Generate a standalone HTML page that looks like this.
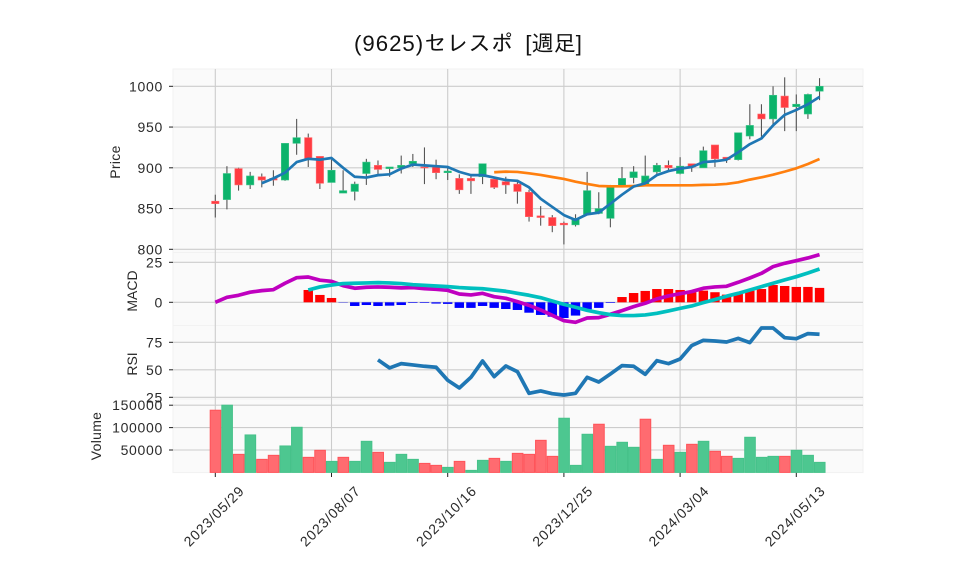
<!DOCTYPE html>
<html>
<head>
<meta charset="utf-8">
<title>(9625)セレスポ [週足]</title>
<style>
html,body{margin:0;padding:0;background:#fff;}
svg{display:block;}
text{font-family:"Liberation Sans","IPAGothic","Noto Sans CJK JP",sans-serif;fill:#2a2a2a;}
</style>
</head>
<body>
<svg id="chart" xmlns="http://www.w3.org/2000/svg" width="958" height="575" viewBox="0 0 958 575"></svg>
<script>
const dateLabels = ["2023/05/29","2023/08/07","2023/10/16","2023/12/25","2024/03/04","2024/05/13"];
const dateTickIndex = [0,10,20,30,40,50];
const priceTicks = [800,850,900,950,1000];
const macdTicks = [0,25];
const rsiTicks = [25,50,75];
const volumeTicks = [50000,100000,150000];
const opens = [859,861,899,879,889,887,885,930,937,914,882,869,871,893,903,899,900,905,901,901,894,887,887,889,886,883,880,870,841,839,832,830,843,844,838,878,888,879,895,903,893,905,900,928,913,910,939,966,960,988,975,966,994];
const closes = [856,893,879,890,885,885,930,937,911,881,897,872,880,907,898,901,903,908,900,894,896,873,884,905,876,879,871,840,839,829,830,838,872,850,877,887,895,890,903,900,902,901,921,911,910,943,952,960,989,974,978,990,1000];
const highs = [867,902,900,895,893,897,930,960,942,914,910,897,883,911,909,901,915,917,925,910,901,892,891,905,889,889,884,873,853,842,834,843,895,870,879,901,902,915,906,909,913,905,926,928,913,943,978,978,1000,1011,990,991,1010];
const lows = [839,849,872,874,876,878,884,916,901,874,882,869,860,879,891,889,893,901,880,886,885,868,868,880,874,868,856,834,829,821,806,828,842,843,827,877,881,878,891,896,892,895,900,901,906,909,935,938,953,945,945,960,983];
const ma5Start = 4;
const ma5 = [881,887,894,907,911,910,912,900,889,888,891,892,899,904,903,902,901,895,891,891,888,885,884,876,862,852,842,836,843,845,856,867,877,881,891,896,899,901,907,908,910,919,929,936,952,965,971,978,987];
const ma25Start = 24;
const ma25 = [894.5,895.3,894.9,893.2,891.2,888.7,886.3,883,880.2,877.7,877.3,877.3,877.7,878.5,878.5,878.5,878.5,878.5,879,879.3,880.2,882.2,885.5,888.3,891.6,895.3,899.4,904.7,910.8];
const macdLine = [0,3.1,4.4,6.3,7.3,7.9,11.9,15.4,15.8,13.8,13.1,10.4,8.8,9.4,9.6,9.4,9,9.2,8.5,8.1,7.5,5.2,4.6,5.6,3.5,2.5,0.4,-1.9,-4.8,-8.1,-11.5,-12.5,-9.8,-9.6,-7.5,-5.2,-2.7,-0.6,2.1,4,5.4,6.7,8.8,9.6,10,12.5,15.2,18.1,22.3,24.4,26,27.7,29.8];
const signalStart = 8;
const signalLine = [7.7,9.6,10.8,11.7,11.9,12.1,12.3,12.1,11.7,11,10.6,10.2,9.8,9.2,8.8,8.5,7.7,6.9,5.6,4.4,2.9,0.8,-1.3,-3.1,-5,-6.5,-7.7,-8.3,-8.3,-7.9,-6.9,-5.4,-3.8,-2.3,-0.2,1.7,3.8,5.6,7.7,9.8,11.9,14,16,18.3,20.8];
const histogram = [7.7,4.6,2.7,-0.2,-2.3,-1.7,-2.3,-2.1,-1.7,-0.4,-0.4,-0.8,-1,-3.5,-3.5,-2.3,-3.5,-4.2,-4.8,-6.5,-7.9,-9,-9.8,-8.3,-4.4,-3.5,-0.4,3.3,5.8,7.1,8.3,8.3,7.7,6.3,7.3,6.3,4.8,5.6,7.3,8.3,10.8,10.2,9.6,9.6,9];
const rsiStart = 14;
const rsiValues = [59,51.7,55.6,54.4,53.2,52.3,40.5,33.5,43.2,58,43.8,53.5,48.3,28.6,30.8,28.3,27.1,28.6,43.2,38.9,46.2,53.8,53.2,45.9,58.3,55.6,59.8,72,76.8,76.2,75.3,78.6,74.7,88,88,79.2,78.3,82.9,82.3];
const volumes = [138800,150000,40300,83600,29100,38100,59000,100700,33600,49300,24600,33600,24600,69400,44800,22400,40300,29100,20100,15700,11200,24600,4500,26900,31300,24600,42500,40300,71600,35800,120900,15700,85100,107500,58200,67200,56000,118700,29100,60500,44800,62700,69400,47000,35800,31300,78400,33600,35800,35800,49300,38100,22400];
const volumeUp = [0,1,0,1,0,0,1,1,0,0,1,0,1,1,0,1,1,1,0,0,1,0,1,1,0,1,0,0,0,0,1,1,1,0,1,1,1,0,1,0,1,0,1,0,0,1,1,1,1,0,1,1,1];

const svg = document.getElementById('chart');
const NS = 'http://www.w3.org/2000/svg';
const L = 173, R = 863;
const xAt = i => 215.3 + 11.62 * i;
const yPrice = v => 86.3 + (1000 - v) * 0.815;
const yMacd = v => 302.3 - v * 1.6;
const yRsi = v => 342.3 + (75 - v) * 1.1;
const yVol = v => 472.4 - v * 0.000448;

function el(tag, attrs, parent) {
  const e = document.createElementNS(NS, tag);
  for (const k in attrs) e.setAttribute(k, attrs[k]);
  (parent || svg).appendChild(e);
  return e;
}
function txt(content, attrs) {
  const e = el('text', attrs);
  e.textContent = content;
  return e;
}
function polyPoints(values, start, yFn) {
  return values.map((v, k) => xAt(start + k).toFixed(2) + ',' + yFn(v).toFixed(2)).join(' ');
}

const panelDefs = [
  {name:'price-panel', top:69, bottom:252.6},
  {name:'macd-panel', top:252.6, bottom:325.5},
  {name:'rsi-panel', top:325.5, bottom:399},
  {name:'volume-panel', top:399, bottom:472.6}
];
panelDefs.forEach(p => {
  const r = el('rect', {x:L, y:p.top, width:R-L, height:p.bottom-p.top, fill:'#fafafa', stroke:'#f2f2f2', 'stroke-width':1});
  
  
});

// vertical grid
dateTickIndex.forEach((idx, n) => {
  const x = xAt(idx);
  const g = el('line', {x1:x, x2:x, y1:69, y2:472.6, stroke:'#cccccc', 'stroke-width':1.1});
  
  
  const t = el('line', {x1:x, x2:x, y1:472.6, y2:477, stroke:'#222', 'stroke-width':1});
  
  
  const lx = x - 1.4;
  const lab = txt(dateLabels[n], {x:lx, y:521, 'font-size':14, 'letter-spacing':0.85, 'text-anchor':'middle', transform:'rotate(-45 '+lx+' 516)'});
  
  
});

function yAxis(ticks, yFn) {
  ticks.forEach(v => {
    const y = yFn(v);
    const g = el('line', {x1:L, x2:R, y1:y, y2:y, stroke:'#cccccc', 'stroke-width':1.1});
    
    
    const t = el('line', {x1:L-4, x2:L, y1:y, y2:y, stroke:'#222', 'stroke-width':1});
    
    
    const lab = txt(String(v), {x:L-10, y:y+5, 'font-size':14, 'letter-spacing':0.7, 'text-anchor':'end'});
    
    
  });
}
yAxis(priceTicks, yPrice);
yAxis(macdTicks, yMacd);
yAxis(rsiTicks, yRsi);
yAxis(volumeTicks, yVol);

// volume bars
volumes.forEach((v, i) => {
  const x = xAt(i) + 0.2, y = yVol(v);
  const up = volumeUp[i];
  const r = el('rect', {x:x-5.3, y:y, width:10.6, height:yVol(0)-y,
    fill: up ? '#4dc790' : '#ff6b70', stroke: up ? '#46c28a' : '#ff5359', 'stroke-width':1});
  
  
});

// candles
opens.forEach((o, i) => {
  const c = closes[i], x = xAt(i);
  const up = c >= o;
  const w = el('line', {x1:x, x2:x, y1:yPrice(highs[i]), y2:yPrice(lows[i]), stroke:'#555', 'stroke-width':1.1});
  
  
  const top = yPrice(Math.max(o, c)), bot = yPrice(Math.min(o, c));
  const b = el('rect', {x:x-3.7, y:top, width:7.4, height:Math.max(bot-top, 1),
    fill: up ? '#0bb36b' : '#ff3b41', stroke: up ? '#3ec48a' : '#ff6a6e', 'stroke-width':0.6});
  
  
});

// moving averages
const maShort = el('polyline', {points:polyPoints(ma25, ma25Start, yPrice), fill:'none', stroke:'#ff7f0e', 'stroke-width':2.7, 'stroke-linejoin':'round'});


const maLong = el('polyline', {points:polyPoints(ma5, ma5Start, yPrice), fill:'none', stroke:'#1f77b4', 'stroke-width':2.7, 'stroke-linejoin':'round'});



// MACD histogram
histogram.forEach((v, k) => {
  const x = xAt(signalStart + k);
  const y0 = yMacd(0), y1 = yMacd(v);
  const r = el('rect', {x:x-4.7, y:Math.min(y0, y1), width:9.4, height:Math.abs(y1-y0),
    fill: v >= 0 ? '#ff0000' : '#0000ff'});
  
  
});
const macdPath = el('polyline', {points:polyPoints(macdLine, 0, yMacd), fill:'none', stroke:'#bf00bf', 'stroke-width':3.7, 'stroke-linejoin':'round'});


const signalPath = el('polyline', {points:polyPoints(signalLine, signalStart, yMacd), fill:'none', stroke:'#00bfbf', 'stroke-width':3.7, 'stroke-linejoin':'round'});



// RSI
const rsiPath = el('polyline', {points:polyPoints(rsiValues, rsiStart, yRsi), fill:'none', stroke:'#1f77b4', 'stroke-width':3.7, 'stroke-linejoin':'round'});



// axis titles
const axisTitles = [["Price",120,162,0.3,'price-axis-title'],["MACD",137,291,0,'macd-axis-title'],["RSI",137,364,0,'rsi-axis-title'],["Volume",101,436,0.3,'volume-axis-title']];
axisTitles.forEach(a => {
  const t = txt(a[0], {x:a[1], y:a[2], 'font-size':14, 'letter-spacing':a[3], 'text-anchor':'middle', transform:'rotate(-90 '+a[1]+' '+a[2]+')'});
  
  
});
const title = el('text', {x:354, y:51, 'font-size':22.2, style:'white-space:pre;fill:#111'});


const titleCode = el('tspan', {'letter-spacing':1}, title);
titleCode.textContent = '(9625)';
const titleRest = el('tspan', {}, title);
titleRest.textContent = 'セレスポ  [週足]';
</script>
</body>
</html>
